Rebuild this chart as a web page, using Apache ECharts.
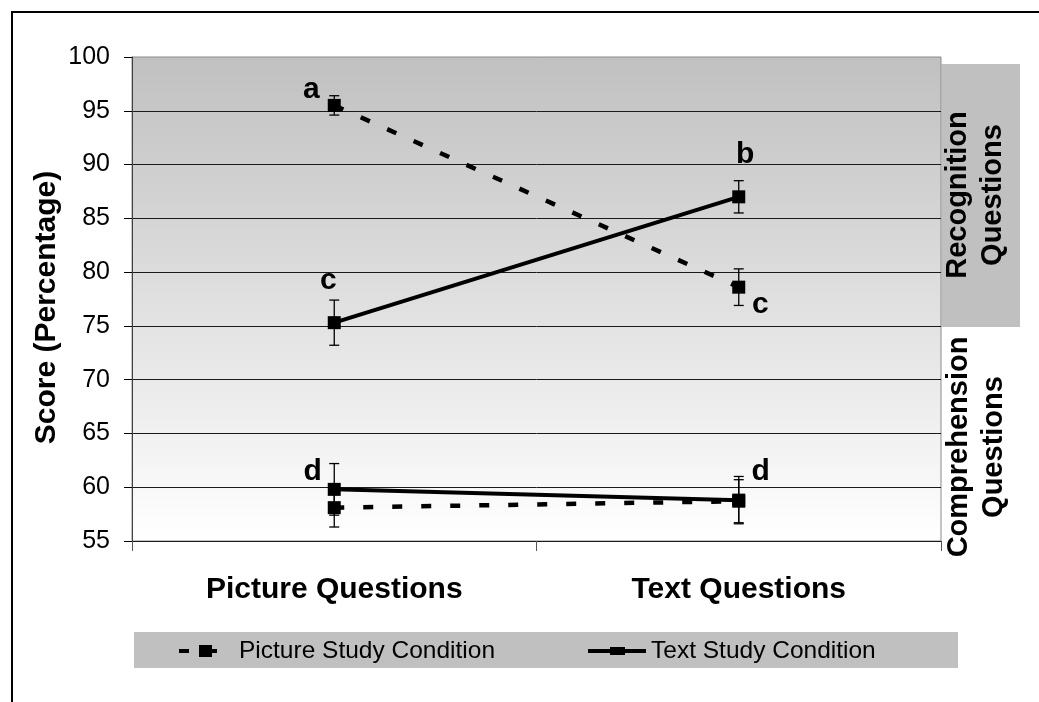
<!DOCTYPE html>
<html>
<head>
<meta charset="utf-8">
<script src="https://cdn.jsdelivr.net/npm/echarts@6/dist/echarts.min.js"></script>
<style>
  html, body { margin: 0; padding: 0; background: #ffffff; }
  #chart { width: 1039px; height: 702px; }
</style>
</head>
<body>
<div id="chart"></div>
<script>
// ---- data ----
const categories = ['Picture Questions', 'Text Questions'];
const seriesNames = ['Picture Study Condition', 'Text Study Condition'];
const yMin = 55;
const yMax = 100;
const yStep = 5;

// Recognition questions (mean score and error)
const pictureStudyRecognition = [95.5, 78.6];
const pictureStudyRecognitionErr = [0.9, 1.7];
const textStudyRecognition = [75.3, 87.0];
const textStudyRecognitionErr = [2.1, 1.5];

// Comprehension questions (mean score and error)
const pictureStudyComprehension = [58.1, 58.7];
const pictureStudyComprehensionErr = [1.8, 2.0];
const textStudyComprehension = [59.8, 58.8];
const textStudyComprehensionErr = [2.4, 2.2];

// Letters marking significance groups
const pictureStudyRecognitionLetters = ['a', 'c'];
const textStudyRecognitionLetters = ['c', 'b'];
const comprehensionLetters = ['d', 'd'];

const yAxisTitle = 'Score (Percentage)';
const sideLabels = ['Recognition\nQuestions', 'Comprehension\nQuestions'];

// ---- drawing ----
const FONT = "'Liberation Sans', Arial, Helvetica, sans-serif";
const chart = echarts.init(document.getElementById('chart'), null, { renderer: 'canvas' });

function lineSeries(name, values, dashed) {
  return {
    type: 'line',
    name: name,
    data: values,
    symbol: 'rect',
    symbolSize: 13,
    showAllSymbol: true,
    z: 3,
    silent: true,
    lineStyle: {
      color: '#000',
      width: dashed ? 4.5 : 4,
      type: dashed ? [10, 19] : 'solid',
      cap: 'butt'
    },
    itemStyle: { color: '#000', borderWidth: 0 },
    emphasis: { disabled: true }
  };
}

function errorSeries(values, errs) {
  return {
    type: 'custom',
    z: 2,
    silent: true,
    encode: { x: 0, y: [1, 2] },
    data: values.map((v, i) => [i, v - errs[i], v + errs[i]]),
    renderItem: function (params, api) {
      const lo = api.coord([api.value(0), api.value(1)]);
      const hi = api.coord([api.value(0), api.value(2)]);
      const x = lo[0];
      const w = 5;
      const st = { stroke: '#000', lineWidth: 1.3 };
      return {
        type: 'group',
        children: [
          { type: 'line', shape: { x1: x, y1: lo[1], x2: x, y2: hi[1] }, style: st },
          { type: 'line', shape: { x1: x - w, y1: hi[1], x2: x + w, y2: hi[1] }, style: st },
          { type: 'line', shape: { x1: x - w, y1: lo[1], x2: x + w, y2: lo[1] }, style: st }
        ]
      };
    }
  };
}

const option = {
  animation: false,
  grid: {
    left: 132, top: 57, width: 809, height: 484,
    show: true,
    borderColor: '#8a8a8a',
    borderWidth: 1,
    backgroundColor: {
      type: 'linear', x: 0, y: 0, x2: 0, y2: 1,
      colorStops: [
        { offset: 0, color: '#c0c0c0' },
        { offset: 1, color: '#ffffff' }
      ]
    }
  },
  xAxis: {
    type: 'category',
    data: categories,
    boundaryGap: true,
    axisLine: { show: true, lineStyle: { color: '#1a1a1a', width: 1 } },
    axisTick: { show: true, length: 10, lineStyle: { color: '#555' } },
    axisLabel: { fontSize: 30, fontWeight: 'bold', color: '#000', fontFamily: FONT, margin: 34, interval: 0 },
    splitLine: { show: false }
  },
  yAxis: {
    type: 'value',
    min: yMin, max: yMax, interval: yStep,
    axisLine: { show: true, lineStyle: { color: '#404040', width: 1 } },
    axisTick: { show: true, length: 8, lineStyle: { color: '#000' } },
    axisLabel: { fontSize: 25, color: '#000', fontFamily: FONT, margin: 22 },
    splitLine: { show: true, showMinLine: false, showMaxLine: false, lineStyle: { color: '#1a1a1a', width: 1 } }
  },
  legend: [
    {
      data: [seriesNames[0]],
      left: 179, top: 636, padding: 0,
      itemWidth: 38, itemHeight: 12,
      icon: 'path://M0,4 L10,4 L10,8 L0,8 Z M20,0 L33,0 L33,12 L20,12 Z M33,4 L38,4 L38,8 L33,8 Z',
      itemStyle: { color: '#000', borderWidth: 0 },
      textStyle: { fontSize: 24.5, color: '#000', fontFamily: FONT, lineHeight: 30, padding: [0, 0, 0, 17] },
      selectedMode: false
    },
    {
      data: [seriesNames[1]],
      left: 588, top: 636, padding: 0,
      itemWidth: 58, itemHeight: 8,
      icon: 'path://M0,2 L58,2 L58,6 L0,6 Z M22,0 L37,0 L37,8 L22,8 Z',
      itemStyle: { color: '#000', borderWidth: 0 },
      textStyle: { fontSize: 24.5, color: '#000', fontFamily: FONT, lineHeight: 30 },
      selectedMode: false
    }
  ],
  series: [
    errorSeries(pictureStudyRecognition, pictureStudyRecognitionErr),
    errorSeries(textStudyRecognition, textStudyRecognitionErr),
    errorSeries(pictureStudyComprehension, pictureStudyComprehensionErr),
    errorSeries(textStudyComprehension, textStudyComprehensionErr),
    lineSeries(seriesNames[0], pictureStudyRecognition, true),
    lineSeries(seriesNames[1], textStudyRecognition, false),
    lineSeries(seriesNames[0], pictureStudyComprehension, true),
    lineSeries(seriesNames[1], textStudyComprehension, false)
  ]
};

chart.setOption(option);

// Significance letters placed next to their markers
function letterItems(values, letters, offsets) {
  return values.map((v, i) => {
    const p = chart.convertToPixel({ gridIndex: 0 }, [i, v]);
    return {
      type: 'text',
      x: p[0] + offsets[i][0],
      y: p[1] + offsets[i][1],
      silent: true,
      z: 10,
      style: {
        text: letters[i],
        fontSize: 30, fontWeight: 'bold', fontFamily: FONT,
        fill: '#000', align: 'center', verticalAlign: 'middle'
      }
    };
  });
}

const graphics = [
  // outer frame
  { type: 'rect', silent: true, z: -10,
    shape: { x: 12, y: 12, width: 1100, height: 800 },
    style: { fill: null, stroke: '#000', lineWidth: 2 } },
  // recognition band on the right
  { type: 'rect', silent: true, z: -10,
    shape: { x: 941.5, y: 64, width: 78.5, height: 263 },
    style: { fill: '#c0c0c0' } },
  // legend band
  { type: 'rect', silent: true, z: -10,
    shape: { x: 134, y: 632, width: 824, height: 36 },
    style: { fill: '#c0c0c0' } },
  // y axis title
  { type: 'text', silent: true, x: 47, y: 307.5, rotation: Math.PI / 2,
    style: { text: yAxisTitle, fontSize: 30, fontWeight: 'bold', fontFamily: FONT,
      fill: '#000', align: 'center', verticalAlign: 'middle' } },
  // side labels
  { type: 'text', silent: true, x: 975, y: 195, rotation: Math.PI / 2,
    style: { text: sideLabels[0], fontSize: 29, fontWeight: 'bold', fontFamily: FONT,
      lineHeight: 35, fill: '#000', align: 'center', verticalAlign: 'middle' } },
  { type: 'text', silent: true, x: 976, y: 447, rotation: Math.PI / 2,
    style: { text: sideLabels[1], fontSize: 29, fontWeight: 'bold', fontFamily: FONT,
      lineHeight: 35, fill: '#000', align: 'center', verticalAlign: 'middle' } }
]
  .concat(letterItems(pictureStudyRecognition, pictureStudyRecognitionLetters, [[-23, -16], [21.5, 18]]))
  .concat(letterItems(textStudyRecognition, textStudyRecognitionLetters, [[-6, -42], [6.5, -42.5]]))
  .concat(letterItems(textStudyComprehension, comprehensionLetters, [[-21.5, -17.5], [22, -28]]));

chart.setOption({ graphic: graphics });
</script>
</body>
</html>
